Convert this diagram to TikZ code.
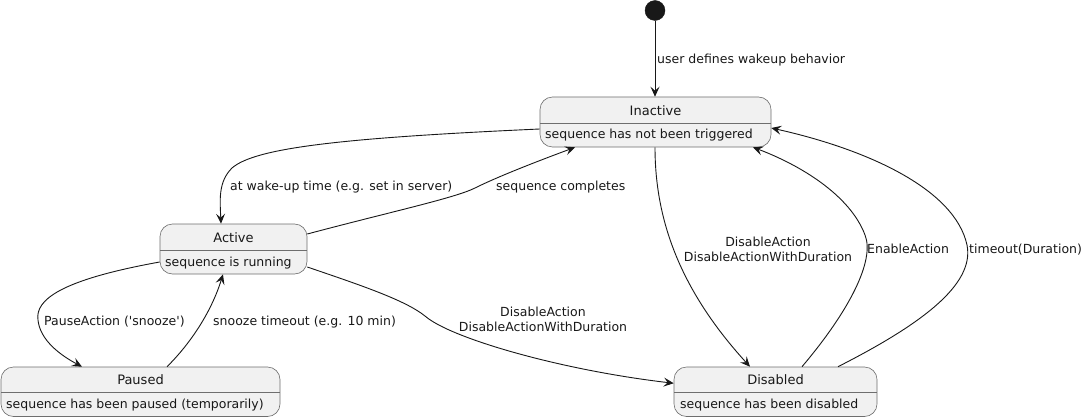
\documentclass[tikz,border=0pt]{standalone}
\usepackage{fontspec}
\setmainfont{DejaVu Sans}
\usetikzlibrary{arrows.meta}
\definecolor{boxfill}{HTML}{F1F1F1}
\definecolor{ink}{HTML}{181818}
\definecolor{edge}{HTML}{181818}
\definecolor{border}{HTML}{6E6E6E}
\begin{document}
\begin{tikzpicture}[x=1pt,y=-1pt,
  statebox/.style={draw=border, line width=0.6pt, fill=boxfill, rounded corners=12.5pt, inner sep=0pt},
  divider/.style={draw=border, line width=0.6pt},
  titletext/.style={inner sep=0pt, font=\fontsize{13}{15}\selectfont, text=ink},
  desctext/.style={inner sep=0pt, font=\fontsize{12.5}{15}\selectfont, text=ink},
  lbl/.style={inner sep=0pt, font=\fontsize{12.5}{15}\selectfont, text=ink},
  arr/.style={draw=edge, line width=0.9pt, -{Stealth[length=10pt,width=9pt,inset=4pt]}}
]
\useasboundingbox (0,0) rectangle (1083,417);

% initial state
\node[circle, fill=ink, draw=ink, minimum size=20pt, inner sep=0pt] (init) at (655,10.5) {};

% Inactive
\node[statebox, minimum width=231pt, minimum height=50pt] (inactive) at (655.5,122) {};
\draw[divider] (540,123) -- (771,123);
\node[titletext, anchor=base] (inactiveT) at (655.5,115) {Inactive};
\node[desctext, anchor=base west] (inactiveD) at (545,139) {sequence has not been triggered};

% Active
\node[statebox, minimum width=147pt, minimum height=50pt] (active) at (233.5,249) {};
\draw[divider] (160,250) -- (307,250);
\node[titletext, anchor=base] (activeT) at (233.5,242) {Active};
\node[desctext, anchor=base west] (activeD) at (165,266) {sequence is running};

% Paused
\node[statebox, minimum width=279pt, minimum height=49.5pt] (paused) at (140.5,391.75) {};
\draw[divider] (1,392.5) -- (280,392.5);
\node[titletext, anchor=base] (pausedT) at (140.5,384.5) {Paused};
\node[desctext, anchor=base west] (pausedD) at (6,408) {sequence has been paused (temporarily)};

% Disabled
\node[statebox, minimum width=203pt, minimum height=49.5pt] (disabled) at (775.5,391.75) {};
\draw[divider] (674,392.5) -- (877,392.5);
\node[titletext, anchor=base] (disabledT) at (775.5,384.5) {Disabled};
\node[desctext, anchor=base west] (disabledD) at (680,408) {sequence has been disabled};

% edges
\draw[arr] (init) -- (inactive.north -| init);
\node[lbl, anchor=base west] (l0) at (657,63.3) {user defines wakeup behavior};

\draw[arr] ([yshift=-7pt]inactive.west) .. controls (340,138) and (255,148) .. (232,168)
   .. controls (218,182) and (220,200) .. (active.north -| 221,0);
\node[lbl, anchor=base west] (l1) at (230,190) {at wake-up time (e.g. set in server)};

\draw[arr] ([yshift=15pt]active.east) .. controls (390,212) and (455,198) .. (475,188)
   .. controls (495,178) and (530,164) .. ([xshift=-80.5pt]inactive.south);
\node[lbl, anchor=base west] (l2) at (496,190) {sequence completes};

\draw[arr] ([yshift=-13pt]active.west) .. controls (60,280) and (35,300) .. (38,320)
   .. controls (40,340) and (60,355) .. ([xshift=-58.5pt]paused.north);
\node[lbl, anchor=base west] (l3) at (44,325) {PauseAction (\textquotesingle snooze\textquotesingle)};

\draw[arr] ([xshift=26.5pt]paused.north) .. controls (192,342) and (212,310) .. ([xshift=-10.5pt]active.south);
\node[lbl, anchor=base west] (l4) at (213,325) {snooze timeout (e.g. 10 min)};

\draw[arr] ([yshift=-18pt]active.east) .. controls (360,285) and (405,300) .. (425,316)
   .. controls (450,338) and (560,370) .. ([yshift=8.5pt]disabled.west);
\node[lbl, anchor=north, align=center] (l5) at (543,307.2) {DisableAction\\DisableActionWithDuration};

\draw[arr] ([xshift=-0.5pt]inactive.south) .. controls (655,220) and (680,290) .. ([xshift=-25.5pt]disabled.north);
\node[lbl, anchor=north, align=center] (l6) at (768,236.5) {DisableAction\\DisableActionWithDuration};

\draw[arr] ([xshift=26.5pt]disabled.north) .. controls (850,310) and (875,260) .. (865,235)
   .. controls (850,195) and (800,165) .. ([xshift=97.5pt]inactive.south);
\node[lbl, anchor=base west] (l7) at (867,253.3) {EnableAction};

\draw[arr] ([xshift=62.5pt]disabled.north) .. controls (920,325) and (975,285) .. (967,245)
   .. controls (955,190) and (870,150) .. ([yshift=-6pt]inactive.east);
\node[lbl, anchor=base west] (l8) at (969,253.3) {timeout(Duration)};
\end{tikzpicture}
\end{document}
